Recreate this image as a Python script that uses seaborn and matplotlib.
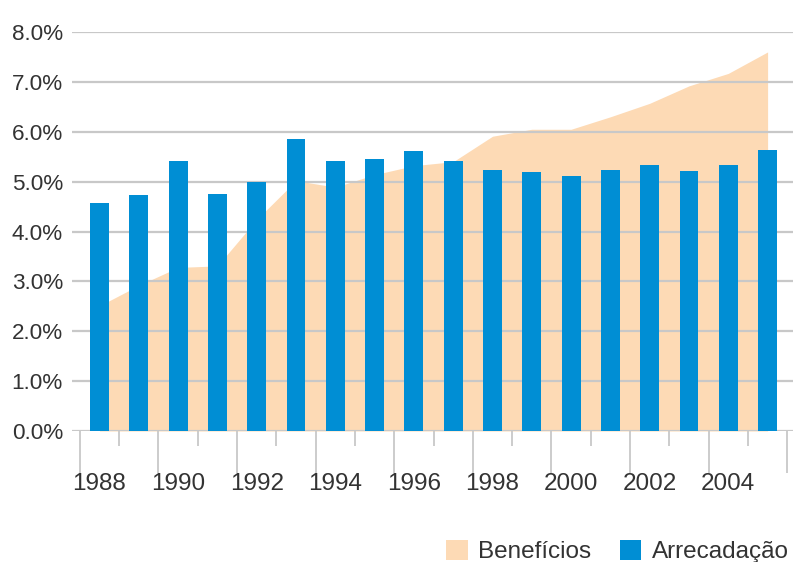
import numpy as np
import pandas as pd
import matplotlib
matplotlib.use("Agg")
import matplotlib.pyplot as plt
from matplotlib.patches import Patch
import seaborn as sns

# ====================
# DATOS
# ====================
anos = [1988, 1989, 1990, 1991, 1992, 1993, 1994, 1995, 1996,
        1997, 1998, 1999, 2000, 2001, 2002, 2003, 2004, 2005]
beneficios = [2.51, 2.92, 3.28, 3.31, 4.24, 5.02, 4.89, 5.14, 5.32,
              5.40, 5.91, 6.05, 6.05, 6.30, 6.57, 6.92, 7.17, 7.60]
arrecadacao = [4.57, 4.73, 5.41, 4.75, 4.99, 5.85, 5.41, 5.45, 5.61,
               5.41, 5.23, 5.19, 5.11, 5.23, 5.33, 5.21, 5.33, 5.63]
y_ticks = [0, 1, 2, 3, 4, 5, 6, 7, 8]
legend_labels = ["Benefícios", "Arrecadação"]

df = pd.DataFrame({"Ano": anos, "Beneficios": beneficios, "Arrecadacao": arrecadacao})

# ====================
# ESTILO
# ====================
sns.set_style("white")
azul = "#008ED4"
pessego = "#FDDAB5"
cinza = "#C8C8C8"
texto = "#333333"
fonte = ["Liberation Sans", "DejaVu Sans"]
plt.rcParams["font.family"] = fonte

fig = plt.figure(figsize=(7.93, 5.62), dpi=100)
ax = fig.add_axes([72 / 793, 1 - 431 / 562, 1 - 72 / 793, (431 - 32) / 562])

pos = np.arange(len(anos))

# area de beneficios (detras)
ax.fill_between(pos, 0, df["Beneficios"], color=pessego, linewidth=0, zorder=0.2)

# barras de arrecadacao
sns.barplot(data=df, x="Ano", y="Arrecadacao", color=azul, width=0.48,
            saturation=1, ax=ax, zorder=2, edgecolor="none")

ax.set_xlim((72 - 99.5) / 39.3, (793 - 99.5) / 39.3)
ax.set_ylim(0, 8)
ax.set_yticks(y_ticks)
ax.set_yticklabels([f"{v:.1f}%" for v in y_ticks], fontsize=16.2, color=texto)
ax.yaxis.grid(True, color=cinza, linewidth=1.6)
ax.set_axisbelow(True)
ax.tick_params(axis="y", length=0, pad=6.5)

# marcas del eje x en los limites entre años
limites = np.append(pos - 0.5, pos[-1] + 0.5)
ax.set_xticks(limites[::2])
ax.set_xticks(limites[1::2], minor=True)
ax.set_xticklabels([])
ax.tick_params(axis="x", which="both", bottom=True, color=cinza, width=1.3, direction="out")
ax.tick_params(axis="x", which="major", length=30)
ax.tick_params(axis="x", which="minor", length=11)

for i in range(0, len(anos), 2):
    ax.text(pos[i], -0.84, str(anos[i]), ha="center", va="top", fontsize=17.5,
            color=texto, clip_on=False)

ax.set_xlabel("")
ax.set_ylabel("")
sns.despine(ax=ax, left=True, bottom=True, right=True, top=True)

handles = [Patch(facecolor=pessego, edgecolor="none"), Patch(facecolor=azul, edgecolor="none")]
leg = fig.legend(handles, legend_labels, loc="lower right", bbox_to_anchor=(793 / 793, -0.009),
                 ncol=2, frameon=False, handlelength=0.9, handleheight=0.9,
                 handletextpad=0.45, columnspacing=1.15, borderaxespad=0.0, borderpad=0.15,
                 prop={"size": 17.5})
for t in leg.get_texts():
    t.set_color(texto)

fig.savefig("out.png", dpi=100)
